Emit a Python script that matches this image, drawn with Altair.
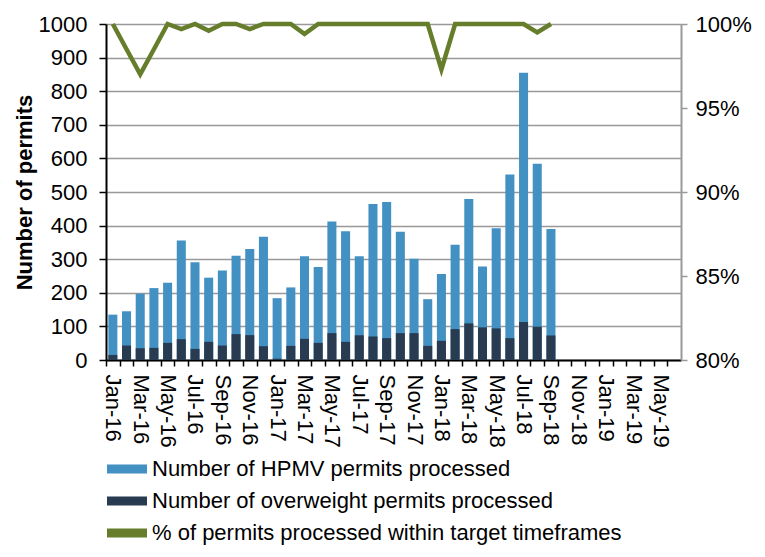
import altair as alt
import pandas as pd

months = ["Jan-16", "Feb-16", "Mar-16", "Apr-16", "May-16", "Jun-16", "Jul-16", "Aug-16", "Sep-16", "Oct-16", "Nov-16", "Dec-16",
          "Jan-17", "Feb-17", "Mar-17", "Apr-17", "May-17", "Jun-17", "Jul-17", "Aug-17", "Sep-17", "Oct-17", "Nov-17", "Dec-17",
          "Jan-18", "Feb-18", "Mar-18", "Apr-18", "May-18", "Jun-18", "Jul-18", "Aug-18", "Sep-18", "Oct-18", "Nov-18", "Dec-18",
          "Jan-19", "Feb-19", "Mar-19", "Apr-19", "May-19", "Jun-19"]

hpmv = [135, 145, 197, 214, 230, 356, 291, 245, 266, 310, 330, 367,
        184, 216, 309, 277, 412, 383, 309, 464, 470, 382, 301, 181,
        256, 343, 479, 278, 392, 552, 855, 584, 390]
overweight = [15, 43, 35, 36, 51, 62, 33, 54, 43, 77, 74, 41,
              4, 42, 63, 51, 80, 54, 74, 70, 65, 80, 80, 42,
              57, 92, 109, 97, 94, 65, 113, 99, 73]
pct = [100, 98.5, 97.0, 98.5, 100, 99.7, 100, 99.6, 100, 100, 99.7, 100,
       100, 100, 99.4, 100, 100, 100, 100, 100, 100, 100, 100, 100,
       97.3, 100, 100, 100, 100, 100, 100, 99.5, 100]

s_hpmv = "Number of HPMV permits processed"
s_ow = "Number of overweight permits processed"
s_pct = "% of permits processed within target timeframes"

n = len(hpmv)
bars = pd.DataFrame({
    "month": months[:n] * 2,
    "series": [s_hpmv] * n + [s_ow] * n,
    "value": hpmv + overweight,
})
line = pd.DataFrame({"month": months[:n], "pct": [p / 100 for p in pct], "series": [s_pct] * n})

FONT = "Liberation Sans"
W, H = 575, 336
STEP = W / len(months)

def xenc():
    return alt.X("month:N", scale=alt.Scale(domain=months, paddingInner=0.34, paddingOuter=0.17),
                 axis=alt.Axis(title=None, labelAngle=90, labelFontSize=22, labelFont=FONT, labelColor="black",
                               labelPadding=8, tickColor="black", tickSize=6, tickWidth=1.5,
                               tickOffset=-STEP / 2, labelOffset=STEP / 2,
                               domainColor="black", domainWidth=2, grid=False, labelOverlap=False,
                               labelExpr="indexof(['Jan','Mar','May','Jul','Sep','Nov'], slice(datum.value,0,3)) >= 0 ? datum.value : ''"))

color_scale = alt.Scale(domain=[s_hpmv, s_ow, s_pct], range=["#4390C3", "#293B51", "#667E2C"])
legend = alt.Legend(
    title=None, orient="bottom", direction="vertical", offset=10,
    symbolType="M-2,-0.45H2V0.45H-2Z", symbolSize=400, symbolStrokeWidth=0, symbolOpacity=1,
    symbolOffset=10, labelOffset=14, rowPadding=10,
    labelFontSize=22, labelFont=FONT, labelColor="black", labelLimit=700,
)

bar_layer = alt.Chart(bars).mark_bar().encode(
    x=xenc(),
    y=alt.Y("value:Q", stack=None, scale=alt.Scale(domain=[0, 1000]),
            axis=alt.Axis(title="Number of permits", titleFontSize=22, titleFont=FONT, titleFontWeight="bold",
                          titleColor="black", titlePadding=2, tickCount=10, format="d",
                          labelFontSize=22, labelFont=FONT, labelColor="black", labelPadding=12,
                          tickColor="black", tickSize=7, tickWidth=1.5, domainColor="black", domainWidth=2,
                          grid=True, gridColor="#999999", gridWidth=1.5)),
    color=alt.Color("series:N", scale=color_scale, legend=legend),
)

line_layer = alt.Chart(line).mark_line(strokeWidth=4.5).encode(
    x=xenc(),
    y=alt.Y("pct:Q", scale=alt.Scale(domain=[0.8, 1.0]),
            axis=alt.Axis(title=None, orient="right", tickCount=4, format=".0%",
                          labelFontSize=22, labelFont=FONT, labelColor="black", labelPadding=8,
                          tickColor="#999999", tickSize=6, tickWidth=1.5, domainColor="#999999",
                          domainWidth=2, grid=False)),
    color=alt.Color("series:N", scale=color_scale, legend=legend),
)

chart = alt.layer(bar_layer, line_layer).resolve_scale(y="independent").properties(
    width=W, height=H,
).configure_view(stroke=None)

chart.save("out.html", embed_options={"renderer": "svg", "actions": False})
